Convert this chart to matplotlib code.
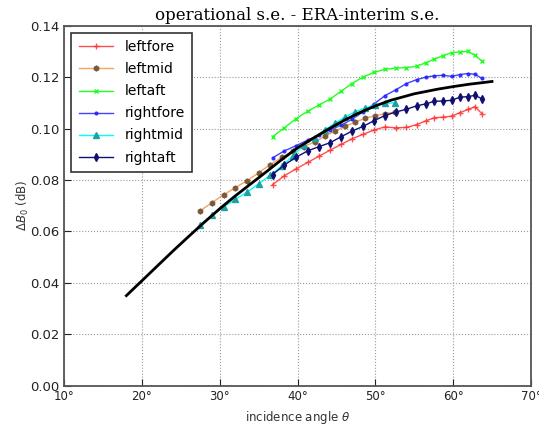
import matplotlib
matplotlib.use("Agg")
import matplotlib.pyplot as plt
from matplotlib.ticker import FuncFormatter

# ---------------- data ----------------
angles_fa = [36.8, 38.3, 39.8, 41.3, 42.8, 44.2, 45.6, 47.0, 48.4, 49.8, 51.2,
             52.6, 54.0, 55.3, 56.5, 57.6, 58.7, 59.8, 60.9, 61.9, 62.8, 63.7]
angles_mid = [27.5, 29.0, 30.5, 32.0, 33.5, 35.0, 36.5, 38.0, 39.4, 40.8, 42.2,
              43.5, 44.8, 46.1, 47.4, 48.7, 50.0, 51.3, 52.5]

leftfore = [0.0782, 0.0816, 0.0843, 0.0868, 0.0893, 0.0916, 0.0938, 0.0960, 0.0977,
            0.0994, 0.1006, 0.1003, 0.1004, 0.1015, 0.1030, 0.1042, 0.1044, 0.1048,
            0.1062, 0.1074, 0.1085, 0.1058]
leftmid = [0.0680, 0.0712, 0.0742, 0.0770, 0.0797, 0.0828, 0.0860, 0.0888, 0.0912,
           0.0930, 0.0948, 0.0970, 0.0990, 0.1008, 0.1025, 0.1040, 0.1050, 0.1058,
           0.1064]
leftaft = [0.0968, 0.1003, 0.1038, 0.1067, 0.1092, 0.1115, 0.1145, 0.1175, 0.1200,
           0.1218, 0.1230, 0.1235, 0.1237, 0.1242, 0.1256, 0.1270, 0.1284, 0.1295,
           0.1298, 0.1300, 0.1285, 0.1262]
rightfore = [0.0886, 0.0913, 0.0933, 0.0955, 0.0976, 0.0995, 0.1013, 0.1036, 0.1064,
             0.1095, 0.1127, 0.1150, 0.1175, 0.1190, 0.1200, 0.1205, 0.1207, 0.1203,
             0.1210, 0.1214, 0.1211, 0.1195]
rightmid = [0.0626, 0.0663, 0.0695, 0.0725, 0.0752, 0.0785, 0.0818, 0.0855, 0.0893,
            0.0935, 0.0965, 0.0995, 0.1020, 0.1045, 0.1065, 0.1080, 0.1092, 0.1098,
            0.1100]
rightaft = [0.0821, 0.0858, 0.0888, 0.0913, 0.0930, 0.0945, 0.0968, 0.0990, 0.1008,
            0.1030, 0.1050, 0.1064, 0.1075, 0.1088, 0.1096, 0.1106, 0.1107, 0.1110,
            0.1122, 0.1124, 0.1129, 0.1116]

model_angles = [18, 20, 22, 24, 26, 28, 30, 32, 34, 36, 38, 40, 42, 44, 46, 48,
                50, 52, 55, 58, 60, 62, 65]
model_values = [0.0350, 0.0408, 0.0466, 0.0524, 0.0580, 0.0635, 0.0688, 0.0738,
                0.0785, 0.0832, 0.0880, 0.0925, 0.0962, 0.0998, 0.1032, 0.1062,
                0.1088, 0.1110, 0.1135, 0.1153, 0.1163, 0.1172, 0.1183]

xticks = [10, 20, 30, 40, 50, 60, 70]
yticks = [0.00, 0.02, 0.04, 0.06, 0.08, 0.10, 0.12, 0.14]

# ---------------- figure ----------------
fig = plt.figure(figsize=(5.39, 4.28), dpi=100)
ax = fig.add_axes([0.119, 0.099, 0.866, 0.841])

ax.plot(angles_fa, leftfore, color="#ff3030", marker="+", ms=4, lw=1.0, alpha=0.85,
        label="leftfore")
ax.plot(angles_mid, leftmid, color="#f4a460", marker="h", ms=3.5, mfc="#7a5a3a",
        mec="#7a5a3a", lw=1.0, label="leftmid")
ax.plot(angles_fa, leftaft, color="#22ff22", marker="x", ms=3, lw=1.0, label="leftaft")
ax.plot(angles_fa, rightfore, color="#2222ff", marker=".", ms=4, lw=1.0, alpha=0.85,
        label="rightfore")
ax.plot(angles_mid, rightmid, color="#00ffff", marker="^", ms=4, mfc="#20a0a0",
        mec="#20a0a0", lw=1.0, label="rightmid")
ax.plot(angles_fa, rightaft, color="#101070", marker="d", ms=4, lw=1.0,
        label="rightaft")
ax.plot(model_angles, model_values, color="black", lw=2.0)

ax.set_xlim(10, 70)
ax.set_ylim(0.0, 0.14)
ax.set_xticks(xticks)
ax.set_yticks(yticks)
ax.xaxis.set_major_formatter(FuncFormatter(lambda v, p: "%d\u00b0" % v))
ax.yaxis.set_major_formatter(FuncFormatter(lambda v, p: "%.2f" % v))
ax.tick_params(direction="in", labelsize=9.5, colors="#222222", length=5)
ax.tick_params(axis="x", labelsize=8.5)
ax.grid(True, linestyle=":", color="#999999", lw=0.8)
for s in ax.spines.values():
    s.set_color("#555555")
    s.set_linewidth(1.3)

ax.set_title("operational s.e. - ERA-interim s.e.", family="DejaVu Serif",
             fontsize=12, pad=4)
ax.set_xlabel(r"incidence angle $\theta$", fontsize=8.5, color="#333333")
ax.set_ylabel(r"$\Delta B_0$ (dB)", fontsize=8.5, color="#333333", labelpad=-1)

leg = ax.legend(loc="upper left", fontsize=10, fancybox=False, framealpha=1,
                edgecolor="#333333", borderpad=0.55, handlelength=2.5,
                labelspacing=0.58)
leg.get_frame().set_linewidth(1.2)

fig.savefig("out.png", dpi=100)
